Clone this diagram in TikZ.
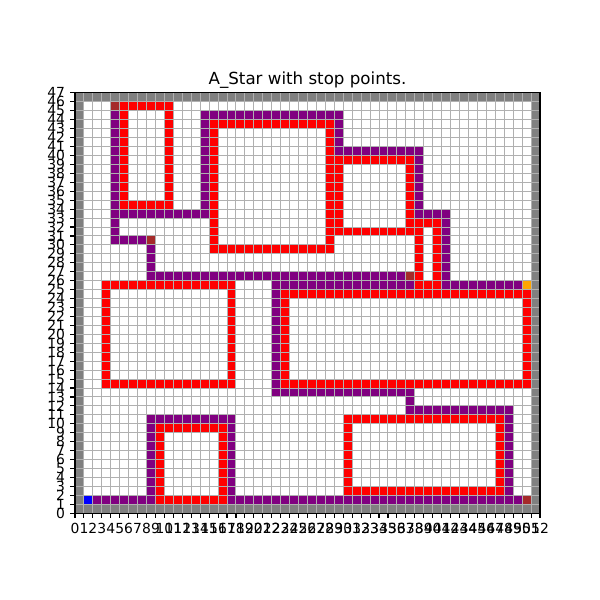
\documentclass[tikz,border=0pt]{standalone}
\usepackage{fontspec}
\setmainfont{DejaVu Sans}
\definecolor{cgray}{HTML}{808080}
\definecolor{cgrid}{HTML}{B0B0B0}
\definecolor{cpurple}{HTML}{800080}
\definecolor{cred}{HTML}{FF0000}
\definecolor{cbrown}{HTML}{A52A2A}
\definecolor{corange}{HTML}{FFA500}
\definecolor{cblue}{HTML}{0000FF}
\tikzset{
  gridline/.style={draw=cgrid, line width=0.72pt},
  spine/.style={draw=black, line width=0.8pt},
  ticklbl/.style={inner sep=0pt, font=\fontsize{10}{12}\selectfont},
  titlelbl/.style={inner sep=0pt, font=\fontsize{12}{14}\selectfont}
}
\begin{document}
\begin{tikzpicture}[x=0.72pt,y=0.72pt]
\useasboundingbox (0,0) rectangle (600,600);
\begin{scope}[shift={(75,86.8)}, x=6.4385pt, y=6.4385pt]
  \fill[white] (0,0) rectangle (52,47);
  % border cells
  \fill[cgray] (0,0) rectangle (52,1);
  \fill[cgray] (0,46) rectangle (52,47);
  \fill[cgray] (0,0) rectangle (1,47);
  \fill[cgray] (51,0) rectangle (52,47);
  % purple horizontal: a/b/row
  \foreach \a/\b/\r in {2/8/1, 8/17/10, 17/49/1, 37/48/11, 22/37/13, 22/37/25, 41/49/25, 38/41/33, 29/38/40, 14/29/44, 4/14/33, 4/7/30, 8/36/26}
    \fill[cpurple] (\a,\r) rectangle ({\b+1},{\r+1});
  % purple vertical: col/a/b
  \foreach \c/\a/\b in {8/1/10, 17/1/10, 48/1/11, 37/11/13, 22/13/25, 41/25/33, 38/33/40, 29/40/44, 14/33/44, 4/30/44, 8/26/29}
    \fill[cpurple] (\c,\a) rectangle ({\c+1},{\b+1});
  % red horizontal
  \foreach \a/\b/\r in {9/16/1, 9/16/9, 30/47/2, 30/47/10, 3/17/25, 3/17/14, 23/50/24, 23/50/14, 15/28/43, 15/28/29, 28/37/39, 29/38/31, 37/40/32, 38/40/25, 5/10/45, 5/10/34}
    \fill[cred] (\a,\r) rectangle ({\b+1},{\r+1});
  % red vertical
  \foreach \c/\a/\b in {9/1/9, 16/1/9, 30/2/10, 47/2/10, 3/14/25, 17/14/25, 23/14/24, 50/14/24, 15/29/43, 28/29/43, 29/31/39, 37/31/39, 38/25/31, 40/25/32, 5/34/45, 10/34/45}
    \fill[cred] (\c,\a) rectangle ({\c+1},{\b+1});
  % special cells
  \foreach \c/\r in {4/45, 8/30, 37/26, 50/1}
    \fill[cbrown] (\c,\r) rectangle ({\c+1},{\r+1});
  \fill[corange] (50,25) rectangle (51,26);
  \fill[cblue] (1,1) rectangle (2,2);
\end{scope}
% grid, snapped to pixel centres
\foreach \i in {1,...,51} {
  \pgfmathsetmacro\gx{floor(75+\i*8.9423)+0.5}
  \draw[gridline] (\gx,86.8) -- (\gx,507.2);
}
\foreach \j in {1,...,46} {
  \pgfmathsetmacro\gy{600-(floor(513.2-\j*8.9423)+0.5)}
  \draw[gridline] (75,\gy) -- (540,\gy);
}
\begin{scope}[shift={(75,86.8)}, x=6.4385pt, y=6.4385pt]
  % spines
  \draw[spine] (0,0) rectangle (52,47);
  % x ticks
  \foreach \i in {0,...,52} {
    \draw[line width=0.8pt] (\i,0) -- ++(0,-3.5pt);
    \node[ticklbl, anchor=north] at ([yshift=-7pt]\i,0) {\i};
  }
  % y ticks
  \foreach \j in {0,...,47} {
    \draw[line width=0.8pt] (0,\j) -- ++(-3.5pt,0);
    \node[ticklbl, anchor=east] at ([xshift=-7pt]0,\j) {\j};
  }
  \node[titlelbl, anchor=base] (title) at ([yshift=6pt]26,47) {A\_Star with stop points.};
\end{scope}
\end{tikzpicture}
\end{document}
